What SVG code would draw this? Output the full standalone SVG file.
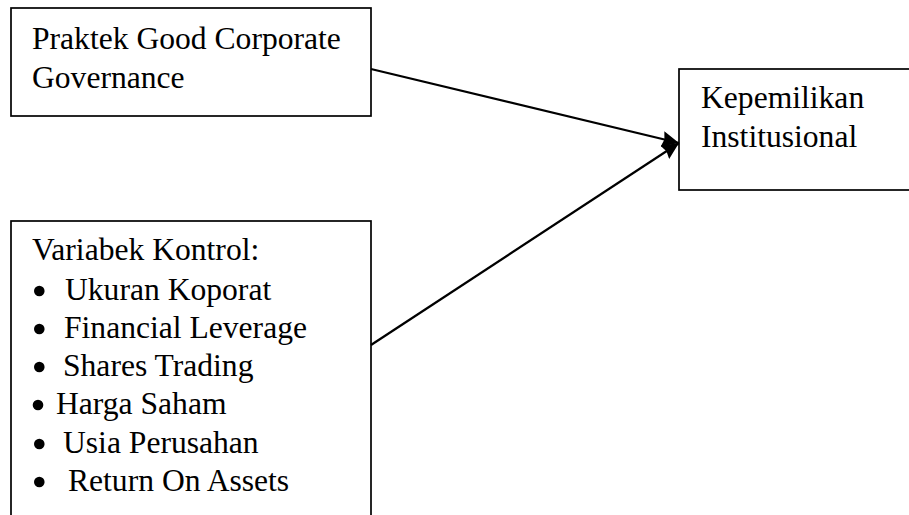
<svg xmlns="http://www.w3.org/2000/svg" width="909" height="515" viewBox="0 0 909 515">
<defs>
<style>
.box{fill:#fff;stroke:#000;stroke-width:1.7}
.t{font-family:"Liberation Serif","Times New Roman",serif;font-size:31.6px;fill:#000}
.dot{fill:#000}
.conn{stroke:#000;stroke-width:2.2;fill:none}
</style>
<marker id="ah" markerUnits="userSpaceOnUse" markerWidth="20" markerHeight="18" refX="17" refY="8" orient="auto">
<path d="M0,0 L17,8 L0,16 L2,8 z" fill="#000"/>
</marker>
</defs>
<rect width="909" height="515" fill="#fff"/>
<g id="node-gcg">
<rect class="box" x="11" y="8" width="360" height="108"/>
<text class="t" x="32" y="49">Praktek Good Corporate</text>
<text class="t" x="32" y="88">Governance</text>
</g>
<g id="node-kepemilikan">
<rect class="box" x="679" y="69" width="240" height="121"/>
<text class="t" x="701" y="108">Kepemilikan</text>
<text class="t" x="701" y="147">Institusional</text>
</g>
<g id="node-kontrol">
<rect class="box" x="11" y="221" width="360" height="310"/>
<text class="t" x="32" y="260">Variabek Kontrol:</text>
<circle class="dot" cx="39.3" cy="291" r="5.3"/><text class="t" x="65" y="300">Ukuran Koporat</text>
<circle class="dot" cx="39.3" cy="329" r="5.3"/><text class="t" x="64" y="338">Financial Leverage</text>
<circle class="dot" cx="39.3" cy="367" r="5.3"/><text class="t" x="63" y="376">Shares Trading</text>
<circle class="dot" cx="38" cy="405" r="5.3"/><text class="t" x="56" y="414">Harga Saham</text>
<circle class="dot" cx="39.3" cy="444" r="5.3"/><text class="t" x="63" y="453">Usia Perusahan</text>
<circle class="dot" cx="39.3" cy="482" r="5.3"/><text class="t" x="68" y="491">Return On Assets</text>
</g>
<g id="connectors">
<line class="conn" x1="371" y1="69" x2="679" y2="143" marker-end="url(#ah)"/>
<line class="conn" x1="371" y1="345" x2="679" y2="143" marker-end="url(#ah)"/>
</g>
</svg>
